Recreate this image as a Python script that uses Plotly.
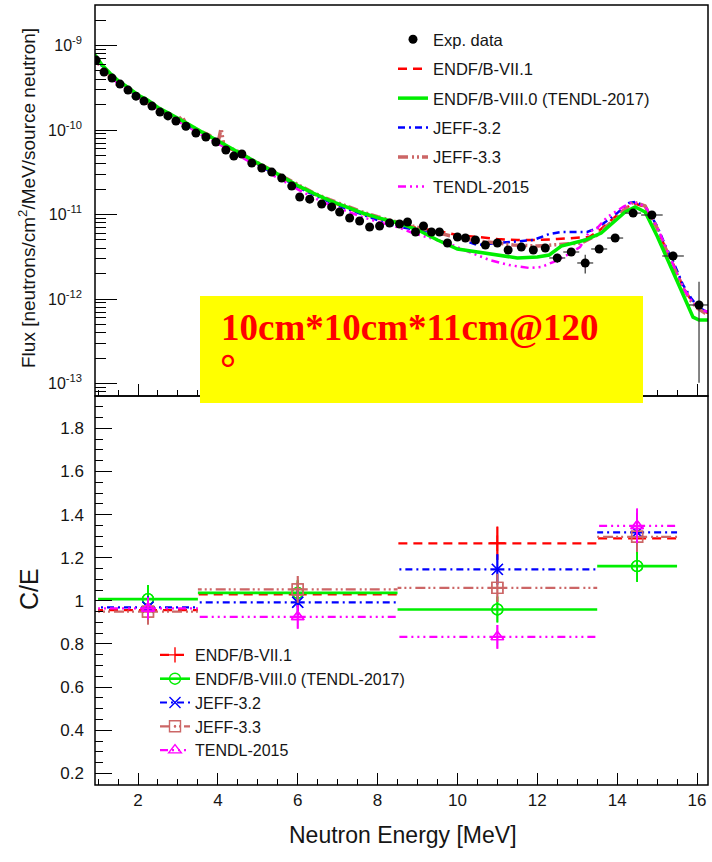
import plotly.graph_objects as go

# ---------------- measured spectrum ----------------
exp_E = [0.95, 1.15, 1.35, 1.55, 1.75, 1.95, 2.15, 2.35, 2.55, 2.75, 2.95, 3.2, 3.45, 3.7,
         3.95, 4.2, 4.4, 4.6, 4.85, 5.1, 5.35, 5.6, 5.85, 6.05, 6.3, 6.6, 6.85, 7.05, 7.3,
         7.55, 7.8, 8.05, 8.3, 8.55, 8.75, 8.95, 9.15, 9.35, 9.55, 9.75, 10.0, 10.2, 10.45,
         10.7, 11.0, 11.27, 11.6, 11.9, 12.2, 12.5, 12.85, 13.2, 13.55, 13.95, 14.4, 14.87,
         15.4, 16.05]
exp_flux = [6.73e-10, 4.85e-10, 4.12e-10, 3.50e-10, 2.97e-10, 2.52e-10, 2.20e-10, 1.92e-10,
            1.63e-10, 1.47e-10, 1.28e-10, 1.11e-10, 9.2e-11, 8.26e-11, 7.21e-11, 5.80e-11,
            4.92e-11, 5.20e-11, 4.06e-11, 3.55e-11, 3.18e-11, 2.70e-11, 2.17e-11, 1.61e-11,
            1.52e-11, 1.33e-11, 1.23e-11, 1.07e-11, 9.1e-12, 8.38e-12, 7.11e-12, 7.31e-12,
            7.93e-12, 7.72e-12, 8.15e-12, 6.21e-12, 7.31e-12, 6.21e-12, 6.21e-12, 4.60e-12,
            5.42e-12, 5.27e-12, 4.99e-12, 4.36e-12, 4.60e-12, 3.80e-12, 4.12e-12, 3.80e-12,
            4.02e-12, 3.06e-12, 3.60e-12, 2.67e-12, 3.91e-12, 5.27e-12, 1.04e-11, 9.87e-12,
            3.23e-12, 8.5e-13]
# relative uncertainty of each measured point
exp_rel_err = [0.03] * 49 + [0.12, 0.10, 0.25, 0.10, 0.08, 0.07, 0.07, 0.12, 0.88]
# energy half-width of each measured point (MeV)
exp_E_err = [0.0] * 49 + [0.2, 0.2, 0.2, 0.2, 0.2, 0.2, 0.27, 0.27, 0.25]

# ---------------- calculated spectra ----------------
endf71_E = [0.9, 1.1, 1.3, 1.5, 1.75, 2.0, 2.25, 2.5, 2.75, 3.0, 3.3, 3.6, 3.9, 4.2, 4.5, 4.8,
            5.1, 5.4, 5.7, 6.0, 6.4, 6.8, 7.2, 7.6, 8.0, 8.5, 9.0, 9.5, 10.0, 10.5, 11.0,
            11.5, 12.0, 12.5, 13.0, 13.3, 13.6, 14.0, 14.4, 14.7, 15.0, 15.2, 15.45, 15.65,
            15.85, 16.0, 16.2, 16.3]
endf71_flux = [7.6e-10, 5.8e-10, 4.6e-10, 3.75e-10, 3.1e-10, 2.55e-10, 2.18e-10, 1.8e-10,
               1.55e-10, 1.33e-10, 1.12e-10, 9.2e-11, 7.8e-11, 6.5e-11, 5.4e-11, 4.45e-11,
               3.7e-11, 3.12e-11, 2.6e-11, 2.15e-11, 1.74e-11, 1.43e-11, 1.21e-11, 1.03e-11,
               9.0e-12, 7.8e-12, 6.9e-12, 6.4e-12, 5.72e-12, 5.42e-12, 5.13e-12, 4.99e-12,
               4.99e-12, 5.13e-12, 5.27e-12, 5.42e-12, 6.73e-12, 9.87e-12, 1.37e-11, 1.23e-11,
               6.92e-12, 4.12e-12, 2.33e-12, 1.39e-12, 9.73e-13, 8.04e-13, 7.01e-13, 6.83e-13]

endf80_E = [0.9, 1.1, 1.3, 1.5, 1.75, 2.0, 2.25, 2.5, 2.75, 3.0, 3.3, 3.6, 3.9, 4.2, 4.5, 4.8,
            5.1, 5.4, 5.7, 6.0, 6.4, 6.8, 7.2, 7.6, 8.0, 8.5, 9.0, 9.5, 10.0, 10.5, 11.0,
            11.5, 12.0, 12.3, 12.6, 13.2, 13.6, 13.9, 14.2, 14.45, 14.7, 15.0, 15.3, 15.6,
            15.9, 16.05, 16.3]
endf80_flux = [8.0e-10, 5.9e-10, 4.7e-10, 3.85e-10, 3.2e-10, 2.6e-10, 2.25e-10, 1.85e-10,
               1.6e-10, 1.36e-10, 1.15e-10, 9.5e-11, 8.0e-11, 6.6e-11, 5.5e-11, 4.55e-11,
               3.8e-11, 3.2e-11, 2.65e-11, 2.2e-11, 1.78e-11, 1.46e-11, 1.24e-11, 1.05e-11,
               9.2e-12, 8.0e-12, 6.6e-12, 4.99e-12, 3.9e-12, 3.6e-12, 3.32e-12, 3.06e-12,
               3.14e-12, 3.32e-12, 4.24e-12, 4.99e-12, 6.04e-12, 7.93e-12, 1.07e-11, 1.23e-11,
               1.07e-11, 5.57e-12, 2.74e-12, 1.28e-12, 6.11e-13, 5.64e-13, 5.64e-13]

jeff32_E = [0.9, 1.1, 1.3, 1.5, 1.75, 2.0, 2.25, 2.5, 2.75, 3.0, 3.3, 3.6, 3.9, 4.2, 4.5, 4.8,
            5.1, 5.4, 5.7, 6.0, 6.4, 6.8, 7.2, 7.6, 8.0, 8.5, 9.0, 9.5, 10.0, 10.5, 11.0,
            11.5, 11.9, 12.3, 12.6, 13.25, 13.5, 14.0, 14.3, 14.45, 14.7, 15.0, 15.2, 15.45,
            15.65, 15.85, 16.0, 16.2, 16.3]
jeff32_flux = [7.5e-10, 5.7e-10, 4.5e-10, 3.7e-10, 3.05e-10, 2.5e-10, 2.14e-10, 1.77e-10,
               1.52e-10, 1.3e-10, 1.1e-10, 9.0e-11, 7.6e-11, 6.35e-11, 5.3e-11, 4.35e-11,
               3.62e-11, 3.05e-11, 2.55e-11, 2.1e-11, 1.7e-11, 1.4e-11, 1.18e-11, 1.0e-11,
               8.6e-12, 7.2e-12, 6.6e-12, 6.0e-12, 5.27e-12, 4.36e-12, 4.6e-12, 4.86e-12,
               4.99e-12, 5.88e-12, 6.21e-12, 6.21e-12, 6.92e-12, 1.04e-11, 1.37e-11, 1.41e-11,
               1.26e-11, 7.31e-12, 4.36e-12, 2.46e-12, 1.47e-12, 1.03e-12, 8.26e-13, 7.21e-13,
               7.01e-13]

jeff33_E = [0.9, 1.05, 1.2, 1.35, 1.5, 1.65, 1.8, 2.0, 2.2, 2.4, 2.6, 2.8, 3.0, 3.1, 3.2, 3.5,
            3.8, 4.0, 4.08, 4.15, 4.5, 4.8, 5.1, 5.4, 5.7, 6.0, 6.4, 6.8, 7.2, 7.6, 8.0, 8.5,
            9.0, 9.5, 10.05, 10.5, 11.0, 11.4, 12.0, 12.5, 13.1, 13.5, 14.0, 14.4, 14.7,
            15.0, 15.2, 15.45, 15.65, 15.85, 16.0, 16.2, 16.3]
jeff33_flux = [7.4e-10, 5.6e-10, 4.4e-10, 4.4e-10, 3.3e-10, 3.4e-10, 2.9e-10, 2.55e-10,
               2.1e-10, 1.95e-10, 1.65e-10, 1.55e-10, 1.3e-10, 1.45e-10, 1.2e-10, 1.0e-10,
               8.6e-11, 6.9e-11, 1.05e-10, 6.6e-11, 5.6e-11, 4.6e-11, 3.9e-11, 3.25e-11,
               2.7e-11, 2.25e-11, 1.8e-11, 1.5e-11, 1.27e-11, 1.08e-11, 9.4e-12, 8.1e-12,
               7.0e-12, 6.1e-12, 5.27e-12, 4.86e-12, 4.6e-12, 4.36e-12, 4.24e-12, 4.36e-12,
               4.6e-12, 5.72e-12, 9.33e-12, 1.41e-11, 1.26e-11, 6.92e-12, 4.12e-12, 2.26e-12,
               1.35e-12, 9.46e-13, 7.82e-13, 6.83e-13, 6.64e-13]

tendl15_E = [0.9, 1.1, 1.3, 1.5, 1.75, 2.0, 2.25, 2.5, 2.75, 3.0, 3.3, 3.6, 3.9, 4.2, 4.5,
             4.8, 5.1, 5.4, 5.7, 6.0, 6.4, 6.8, 7.2, 7.6, 8.0, 8.5, 8.9, 9.75, 10.3, 10.8,
             11.3, 11.8, 12.1, 12.4, 12.75, 13.07, 13.3, 13.5, 13.75, 14.15, 14.4, 14.7, 15.0,
             15.2, 15.45, 15.65, 15.85, 16.0, 16.2, 16.3]
tendl15_flux = [7.0e-10, 5.5e-10, 4.3e-10, 3.55e-10, 2.95e-10, 2.45e-10, 2.08e-10, 1.72e-10,
                1.47e-10, 1.27e-10, 1.06e-10, 8.7e-11, 7.4e-11, 6.1e-11, 5.1e-11, 4.2e-11,
                3.45e-11, 2.9e-11, 2.4e-11, 1.98e-11, 1.58e-11, 1.3e-11, 1.1e-11, 9.4e-12,
                8.2e-12, 7.1e-12, 6.0e-12, 4.6e-12, 3.6e-12, 2.9e-12, 2.52e-12, 2.33e-12,
                2.39e-12, 2.74e-12, 3.32e-12, 4.12e-12, 6.21e-12, 6.92e-12, 9.33e-12, 1.23e-11,
                1.41e-11, 1.26e-11, 7.11e-12, 4.24e-12, 2.33e-12, 1.35e-12, 9.73e-13, 8.04e-13,
                7.21e-13, 7.01e-13]

# ---------------- C/E ratios per energy bin ----------------
bin_lo = [1.0, 3.5, 8.5, 13.5]
bin_hi = [3.5, 8.5, 13.5, 15.5]
bin_c = [2.25, 6.0, 11.0, 14.5]
ce_endf71 = [0.957, 1.030, 1.267, 1.290]
ce_endf80 = [1.008, 1.037, 0.960, 1.161]
ce_jeff32 = [0.970, 0.993, 1.146, 1.318]
ce_jeff33 = [0.950, 1.053, 1.060, 1.297]
ce_tendl15 = [0.965, 0.926, 0.833, 1.348]
ce_err_endf71 = [0.05, 0.06, 0.077, 0.07]
ce_err_endf80 = [0.065, 0.06, 0.06, 0.073]
ce_err_jeff32 = [0.05, 0.06, 0.07, 0.09]
ce_err_jeff33 = [0.06, 0.062, 0.065, 0.07]
ce_err_tendl15 = [0.05, 0.055, 0.055, 0.08]

# flux axis decades and their labels
flux_decades = [1e-13, 1e-12, 1e-11, 1e-10, 1e-9]
flux_decade_labels = ["10<sup>-13</sup>", "10<sup>-12</sup>", "10<sup>-11</sup>",
                      "10<sup>-10</sup>", "10<sup>-9</sup>"]

# ---------------- styles ----------------
RED, GREEN, BLUE, BROWN, MAGENTA = "#ff0000", "#00ee00", "#0000ff", "#cc6666", "#ff00ff"
FONT = "Liberation Sans, Arial, sans-serif"
TXT = "#151515"

libs = [
    # name, colour, width, dash, E, flux, C/E, err, symbol, rank
    ("ENDF/B-VII.1", RED, 2.5, "9px,6px", endf71_E, endf71_flux, ce_endf71, ce_err_endf71, "cross-thin-open", 2),
    ("ENDF/B-VIII.0 (TENDL-2017)", GREEN, 3.5, "solid", endf80_E, endf80_flux, ce_endf80, ce_err_endf80, "circle-open", 3),
    ("JEFF-3.2", BLUE, 2.5, "7px,4px,2px,4px", jeff32_E, jeff32_flux, ce_jeff32, ce_err_jeff32, "x-thin-open", 4),
    ("JEFF-3.3", BROWN, 3.5, "10px,4px,2px,3px,2px,3px", jeff33_E, jeff33_flux, ce_jeff33, ce_err_jeff33, "square-open-dot", 5),
    ("TENDL-2015", MAGENTA, 2.5, "8px,4px,2px,4px,2px,4px,2px,4px", tendl15_E, tendl15_flux, ce_tendl15, ce_err_tendl15, "triangle-up-open", 6),
]

fig = go.Figure()

# calculated spectra (green drawn last so it sits on top of the other libraries)
draw_order = [0, 2, 3, 4, 1]
for i in draw_order:
    name, col, w, dash, E, fl, _, _, _, rank = libs[i]
    fig.add_trace(go.Scatter(
        x=E, y=fl, mode="lines", name=name,
        line=dict(color=col, width=w, dash=dash),
        xaxis="x", yaxis="y", legend="legend", legendgroup=name, legendrank=rank,
    ))

# measured points on top
fig.add_trace(go.Scatter(
    x=exp_E, y=exp_flux, mode="markers", name="Exp. data",
    marker=dict(symbol="circle", size=9, color="black"),
    error_y=dict(type="data", array=[f * r for f, r in zip(exp_flux, exp_rel_err)],
                 color="#333333", thickness=1.2, width=0),
    error_x=dict(type="data", array=exp_E_err, color="#333333", thickness=1.2, width=0),
    xaxis="x", yaxis="y", legend="legend", legendgroup="exp", legendrank=1,
))

# C/E panel: horizontal bin bars with a marker at each bin centre
clear = "rgba(0,0,0,0)"
for name, col, w, dash, _, _, ce, err, sym, rank in libs:
    xs, ys, cols, errs = [], [], [], []
    for lo, hi, c, v, e in zip(bin_lo, bin_hi, bin_c, ce, err):
        xs += [c, lo, None, c, hi, None]
        ys += [v, v, None, v, v, None]
        cols += [col, clear, clear, col, clear, clear]
        errs += [e, 0, 0, e, 0, 0]
    fig.add_trace(go.Scatter(
        x=xs, y=ys, mode="lines+markers", name=name, connectgaps=False,
        line=dict(color=col, width=2.2 if dash != "solid" else 2.6, dash=dash),
        marker=dict(symbol=sym, size=11, color=cols, line=dict(color=cols, width=1.4)),
        error_y=dict(type="data", array=errs, color=col, thickness=1.8, width=0),
        xaxis="x2", yaxis="y2", legend="legend2", legendgroup="ce" + name, legendrank=rank,
    ))

# ---------------- layout ----------------
split = (785 - 396) / 780.0
xr = [0.923, 16.275]
axis_common = dict(showline=False, ticks="inside", tickcolor="black", tickwidth=1.3,
                   showgrid=False, zeroline=False)
tick_font = dict(family=FONT, size=17, color=TXT)
minor_log = [m * d for d in [1e-14, 1e-13, 1e-12, 1e-11, 1e-10, 1e-9] for m in range(2, 10)]

fig.update_layout(
    width=712, height=862,
    margin=dict(l=95, r=4, t=5, b=77),
    paper_bgcolor="white", plot_bgcolor="white",
    showlegend=True,
    xaxis=dict(domain=[0, 1], range=xr, anchor="y", showticklabels=False,
               dtick=2, tick0=0, ticklen=12,
               minor=dict(ticks="inside", dtick=0.5, ticklen=6, tickcolor="black", tickwidth=1),
               tickfont=tick_font, **axis_common),
    yaxis=dict(domain=[split, 1], type="log", range=[-13.148, -8.52], anchor="x",
               tickmode="array", tickvals=flux_decades, ticktext=flux_decade_labels,
               ticklen=22, ticklabelstandoff=12,
               minor=dict(ticks="inside", tickmode="array", tickvals=minor_log, ticklen=11,
                          tickcolor="black", tickwidth=1),
               tickfont=dict(family=FONT, size=16, color=TXT), **axis_common),
    xaxis2=dict(domain=[0, 1], range=xr, anchor="y2", dtick=2, tick0=0, ticklen=12,
                ticklabelstandoff=3,
                minor=dict(ticks="inside", dtick=0.5, ticklen=6, tickcolor="black", tickwidth=1),
                tickfont=tick_font, **axis_common),
    yaxis2=dict(domain=[0, split], range=[0.146, 1.95], anchor="x2", dtick=0.2, tick0=0,
                ticklen=17, ticklabelstandoff=10,
                minor=dict(ticks="inside", dtick=0.05, ticklen=8, tickcolor="black", tickwidth=1),
                tickfont=tick_font, **axis_common),
    legend=dict(x=(393 - 95) / 613, y=(785 - 22) / 780, xanchor="left", yanchor="top",
                bgcolor="rgba(0,0,0,0)", borderwidth=0, tracegroupgap=5,
                font=dict(family=FONT, size=16.5, color=TXT), itemwidth=30),
    legend2=dict(x=(155 - 95) / 613, y=(785 - 638) / 780, xanchor="left", yanchor="top",
                 bgcolor="rgba(0,0,0,0)", borderwidth=0, tracegroupgap=0,
                 font=dict(family=FONT, size=16, color=TXT), itemwidth=30),
)

# panel frames
for y0, y1 in [(split, 1.0), (0.0, split)]:
    fig.add_shape(type="rect", xref="paper", yref="paper", x0=0, x1=1, y0=y0, y1=y1,
                  layer="above", line=dict(color="black", width=1.5),
                  fillcolor="rgba(0,0,0,0)")

# axis titles
fig.add_annotation(text="Flux [neutrons/cm<sup>2</sup>/MeV/source neutron]", textangle=-90,
                   xref="paper", yref="paper", x=(27 - 95) / 613, y=(785 - 198) / 780,
                   xanchor="center", yanchor="middle", showarrow=False,
                   font=dict(family=FONT, size=19, color=TXT))
fig.add_annotation(text="C/E", textangle=-90, xref="paper", yref="paper",
                   x=(29 - 95) / 613, y=(785 - 589) / 780, xanchor="center", yanchor="middle",
                   showarrow=False, font=dict(family=FONT, size=25, color=TXT))
fig.add_annotation(text="Neutron Energy [MeV]", xref="paper", yref="paper",
                   x=(403 - 95) / 613, y=(785 - 835) / 780, xanchor="center", yanchor="middle",
                   showarrow=False, font=dict(family=FONT, size=23, color=TXT))

# geometry label box
fig.add_shape(type="rect", xref="paper", yref="paper", layer="above",
              x0=(200 - 95) / 613, x1=(643 - 95) / 613,
              y0=(785 - 403) / 780, y1=(785 - 296) / 780,
              fillcolor="#ffff00", line=dict(width=0))
fig.add_annotation(text="<b>10cm*10cm*11cm@120</b>", xref="paper", yref="paper",
                   x=(219 - 95) / 613, y=(785 - 327) / 780, xanchor="left", yanchor="middle",
                   align="left", showarrow=False,
                   font=dict(family="Liberation Serif, Times New Roman, serif", size=37,
                             color="#ff0000"))
fig.add_annotation(text="<b>°</b>", xref="paper", yref="paper",
                   x=(228 - 95) / 613, y=(785 - 368) / 780, xanchor="center", yanchor="middle",
                   showarrow=False,
                   font=dict(family="Liberation Serif, Times New Roman, serif", size=40,
                             color="#ff0000"))

fig.write_html("out.html")
